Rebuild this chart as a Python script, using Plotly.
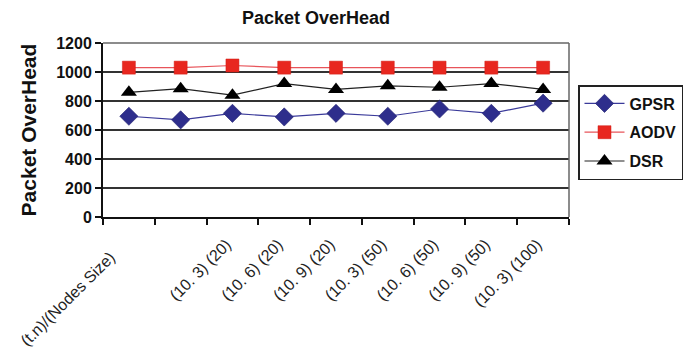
import plotly.graph_objects as go

# Scenario labels along the x axis (second slot carries no label)
categories = ["(t.n)/(Nodes Size)\u00a0\u00a0\u00a0\u00a0", "", "(10. 3) (20)", "(10. 6) (20)",
              "(10. 9) (20)", "(10. 3) (50)", "(10. 6) (50)", "(10. 9) (50)", "(10. 3) (100)"]

gpsr = [695, 670, 715, 690, 715, 695, 745, 715, 785]
aodv = [1030, 1030, 1045, 1030, 1030, 1030, 1030, 1030, 1030]
dsr = [860, 885, 840, 920, 880, 905, 895, 920, 880]

y_ticks = [0, 200, 400, 600, 800, 1000, 1200]

x = list(range(1, len(categories) + 1))
boundaries = [i + 0.5 for i in range(0, len(categories) + 1)]

fig = go.Figure()
fig.add_trace(go.Scatter(
    x=x, y=gpsr, name="<b>GPSR</b>", mode="lines+markers", legendgroup="g",
    line=dict(color="#3a3a9a", width=1.2),
    marker=dict(symbol="diamond", size=14, color="#2e2e8c",
                line=dict(color="#1e1e6e", width=0.6)),
))
fig.add_trace(go.Scatter(
    x=x, y=aodv, name="<b>AODV</b>", mode="lines+markers", legendgroup="a",
    line=dict(color="#e8545a", width=1.2),
    marker=dict(symbol="square", size=13, color="#e8271f",
                line=dict(color="#d01c15", width=0.5)),
))
fig.add_trace(go.Scatter(
    x=x, y=dsr, name="<b>DSR</b>", mode="lines+markers", legendgroup="d",
    line=dict(color="#222222", width=1.2),
    marker=dict(symbol="triangle-up", size=14, color="#000000"),
))

fig.update_layout(
    width=683, height=349,
    margin=dict(l=103, r=114, t=43, b=132),
    paper_bgcolor="white", plot_bgcolor="white",
    font=dict(family="Liberation Sans, Arial, sans-serif", color="#000000"),
    title=dict(text="<b>Packet OverHead</b>", x=316 / 683, xanchor="center",
               y=1 - 18 / 349, yanchor="middle",
               font=dict(size=18, color="#111111",
                         family="Liberation Sans Narrow, Liberation Sans, Arial")),
    showlegend=True,
    legend=dict(
        xref="container", yref="container",
        x=578 / 683, xanchor="left",
        y=1 - 85 / 349, yanchor="top",
        bgcolor="white", bordercolor="#222222", borderwidth=1.5,
        font=dict(size=16, color="#111111",
                  family="Liberation Sans Narrow, Liberation Sans, Arial"),
        itemwidth=40, traceorder="grouped", tracegroupgap=5,
    ),
)

fig.update_xaxes(
    range=[0.5, len(categories) + 0.5],
    tickmode="array", tickvals=x, ticktext=categories,
    tickangle=-45, ticks="", showgrid=False, automargin=False,
    tickfont=dict(size=16, color="#222222"),
    ticklabelstandoff=10, ticklabelshift=-6,
    showline=True, linecolor="#111111", linewidth=2, mirror=False,
    minor=dict(tickmode="array", tickvals=boundaries, ticks="outside",
               ticklen=6, tickwidth=1.5, tickcolor="#111111", showgrid=False),
    zeroline=False,
)
fig.update_yaxes(
    range=[0, 1200], tickmode="array", tickvals=y_ticks,
    ticktext=[f"<b>{v}</b>" for v in y_ticks],
    ticks="outside", ticklen=6, tickwidth=1.5, tickcolor="#111111",
    showgrid=True, gridcolor="#333333", gridwidth=1.5,
    showline=True, linecolor="#111111", linewidth=2, automargin=False,
    tickfont=dict(size=16, color="#111111",
                  family="Liberation Sans Narrow, Liberation Sans, Arial"),
    title=dict(text="<b>Packet OverHead</b>", font=dict(size=21, color="#111111"),
               standoff=14),
    zeroline=False,
)

# Light frame on the top and right edges of the plotting area
fig.add_shape(type="line", xref="paper", yref="paper", x0=0, x1=1, y0=1, y1=1,
              line=dict(color="#666666", width=1.5))
fig.add_shape(type="line", xref="paper", yref="paper", x0=1, x1=1, y0=0, y1=1,
              line=dict(color="#666666", width=1.5))

fig.write_html("out.html")
